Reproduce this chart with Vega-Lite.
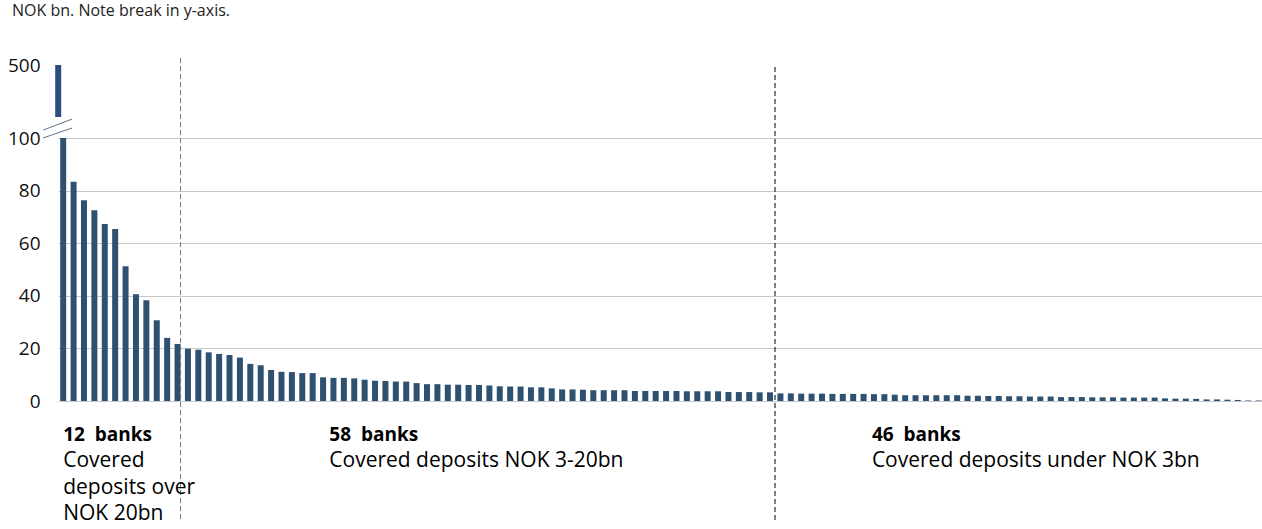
{
  "$schema": "https://vega.github.io/schema/vega-lite/v6.json",
  "autosize": {"type": "none"},
  "padding": {"left": 58, "top": 58, "right": 0, "bottom": 0},
  "width": 1204,
  "height": 471,
  "background": "white",
  "config": {"view": {"stroke": null}, "font": "Open Sans"},
  "title": {"text": "NOK bn. Note break in y-axis.", "anchor": "start", "frame": "group", "orient": "top", "dx": -46, "offset": 37, "fontSize": 16, "fontWeight": "normal", "color": "#222222", "font": "Open Sans"},
  "datasets": {
    "banks": [
      {"bank": 1, "value": 500}, {"bank": 2, "value": 83.4}, {"bank": 3, "value": 76.3}, {"bank": 4, "value": 72.5},
      {"bank": 5, "value": 67.3}, {"bank": 6, "value": 65.4}, {"bank": 7, "value": 51.2}, {"bank": 8, "value": 40.6},
      {"bank": 9, "value": 38.3}, {"bank": 10, "value": 30.7}, {"bank": 11, "value": 24.0}, {"bank": 12, "value": 21.7},
      {"bank": 13, "value": 19.9}, {"bank": 14, "value": 19.5}, {"bank": 15, "value": 18.5}, {"bank": 16, "value": 17.9},
      {"bank": 17, "value": 17.5}, {"bank": 18, "value": 16.5}, {"bank": 19, "value": 14.1}, {"bank": 20, "value": 13.6},
      {"bank": 21, "value": 11.8}, {"bank": 22, "value": 11.1}, {"bank": 23, "value": 11.0}, {"bank": 24, "value": 10.6},
      {"bank": 25, "value": 10.6}, {"bank": 26, "value": 9.0}, {"bank": 27, "value": 8.8}, {"bank": 28, "value": 8.8},
      {"bank": 29, "value": 8.6}, {"bank": 30, "value": 8.1}, {"bank": 31, "value": 7.7}, {"bank": 32, "value": 7.6},
      {"bank": 33, "value": 7.4}, {"bank": 34, "value": 7.4}, {"bank": 35, "value": 6.8}, {"bank": 36, "value": 6.4},
      {"bank": 37, "value": 6.4}, {"bank": 38, "value": 6.2}, {"bank": 39, "value": 6.2}, {"bank": 40, "value": 6.1},
      {"bank": 41, "value": 6.1}, {"bank": 42, "value": 5.9}, {"bank": 43, "value": 5.6}, {"bank": 44, "value": 5.5},
      {"bank": 45, "value": 5.5}, {"bank": 46, "value": 5.2}, {"bank": 47, "value": 5.2}, {"bank": 48, "value": 4.8},
      {"bank": 49, "value": 4.4}, {"bank": 50, "value": 4.4}, {"bank": 51, "value": 4.3}, {"bank": 52, "value": 4.1},
      {"bank": 53, "value": 4.1}, {"bank": 54, "value": 4.1}, {"bank": 55, "value": 4.1}, {"bank": 56, "value": 3.8},
      {"bank": 57, "value": 3.8}, {"bank": 58, "value": 3.8}, {"bank": 59, "value": 3.8}, {"bank": 60, "value": 3.8},
      {"bank": 61, "value": 3.7}, {"bank": 62, "value": 3.7}, {"bank": 63, "value": 3.7}, {"bank": 64, "value": 3.7},
      {"bank": 65, "value": 3.4}, {"bank": 66, "value": 3.4}, {"bank": 67, "value": 3.4}, {"bank": 68, "value": 3.3},
      {"bank": 69, "value": 3.3}, {"bank": 70, "value": 2.9}, {"bank": 71, "value": 2.9}, {"bank": 72, "value": 2.8},
      {"bank": 73, "value": 2.8}, {"bank": 74, "value": 2.8}, {"bank": 75, "value": 2.7}, {"bank": 76, "value": 2.7},
      {"bank": 77, "value": 2.7}, {"bank": 78, "value": 2.7}, {"bank": 79, "value": 2.6}, {"bank": 80, "value": 2.6},
      {"bank": 81, "value": 2.4}, {"bank": 82, "value": 2.2}, {"bank": 83, "value": 2.2}, {"bank": 84, "value": 2.2},
      {"bank": 85, "value": 2.2}, {"bank": 86, "value": 2.2}, {"bank": 87, "value": 2.2}, {"bank": 88, "value": 2.0},
      {"bank": 89, "value": 2.0}, {"bank": 90, "value": 1.9}, {"bank": 91, "value": 1.9}, {"bank": 92, "value": 1.8},
      {"bank": 93, "value": 1.8}, {"bank": 94, "value": 1.7}, {"bank": 95, "value": 1.7}, {"bank": 96, "value": 1.7},
      {"bank": 97, "value": 1.5}, {"bank": 98, "value": 1.5}, {"bank": 99, "value": 1.5}, {"bank": 100, "value": 1.4},
      {"bank": 101, "value": 1.4}, {"bank": 102, "value": 1.4}, {"bank": 103, "value": 1.3}, {"bank": 104, "value": 1.3},
      {"bank": 105, "value": 1.3}, {"bank": 106, "value": 1.3}, {"bank": 107, "value": 1.0}, {"bank": 108, "value": 0.9},
      {"bank": 109, "value": 0.9}, {"bank": 110, "value": 0.8}, {"bank": 111, "value": 0.6}, {"bank": 112, "value": 0.6},
      {"bank": 113, "value": 0.5}, {"bank": 114, "value": 0.4}, {"bank": 115, "value": 0.2}, {"bank": 116, "value": 0.2}
    ],
    "notes": [
      {"at": 1, "line": 1, "text": "12\u00a0 banks"},
      {"at": 1, "line": 2, "text": "Covered"},
      {"at": 1, "line": 3, "text": "deposits over"},
      {"at": 1, "line": 4, "text": "NOK 20bn"},
      {"at": 26.6, "line": 1, "text": "58\u00a0 banks"},
      {"at": 26.6, "line": 2, "text": "Covered deposits NOK 3-20bn"},
      {"at": 78.8, "line": 1, "text": "46\u00a0 banks"},
      {"at": 78.8, "line": 2, "text": "Covered deposits under NOK 3bn"}
    ]
  },
  "layer": [
    {
      "data": {"name": "banks"},
      "mark": {"type": "bar", "orient": "vertical", "width": 6, "color": "#2E5171"},
      "encoding": {
        "x": {"field": "bank", "type": "quantitative", "scale": {"domain": [0.5, 116.33], "nice": false, "zero": false, "padding": 0}, "axis": null},
        "y": {"field": "value", "type": "quantitative",
              "scale": {"domain": [0, 100], "range": [343, 80], "clamp": true, "nice": false, "zero": true},
              "axis": {"orient": "left", "values": [0, 20, 40, 60, 80, 100], "grid": true, "gridColor": "#c8c8c8", "gridWidth": 1,
                       "domain": false, "ticks": false, "labelPadding": 18, "labelFontSize": 19, "labelColor": "#111111",
                       "labelFont": "Open Sans", "title": null}}
      }
    },
    {
      "data": {"name": "banks"},
      "transform": [{"filter": "datum.value > 100"}],
      "mark": {"type": "bar", "orient": "vertical", "width": 6, "color": "#2C4D7E", "xOffset": -5},
      "encoding": {
        "x": {"field": "bank", "type": "quantitative", "scale": {"domain": [0.5, 116.33], "nice": false, "zero": false, "padding": 0}},
        "y": {"field": "value", "type": "quantitative",
              "scale": {"domain": [480, 500], "range": [59, 7], "nice": false, "zero": false},
              "axis": {"orient": "left", "values": [500], "grid": false, "domain": false, "ticks": false, "labelPadding": 18,
                       "labelFontSize": 19, "labelColor": "#111111", "labelFont": "Open Sans", "title": null}},
        "y2": {"datum": 480}
      }
    },
    {
      "data": {"values": [{}]},
      "mark": {"type": "rule", "color": "#5f7189", "strokeWidth": 1, "clip": false},
      "encoding": {
        "x": {"datum": -0.93, "type": "quantitative", "scale": {"domain": [0.5, 116.33], "nice": false, "zero": false, "padding": 0}},
        "x2": {"datum": 1.85},
        "y": {"datum": 103.0, "type": "quantitative", "scale": {"domain": [0, 100], "range": [343, 80], "nice": false, "zero": false}, "axis": null},
        "y2": {"datum": 107.2}
      }
    },
    {
      "data": {"values": [{}]},
      "mark": {"type": "rule", "color": "#5f7189", "strokeWidth": 1, "clip": false},
      "encoding": {
        "x": {"datum": -0.93, "type": "quantitative", "scale": {"domain": [0.5, 116.33], "nice": false, "zero": false, "padding": 0}},
        "x2": {"datum": 1.85},
        "y": {"datum": 100.0, "type": "quantitative", "scale": {"domain": [0, 100], "range": [343, 80], "nice": false, "zero": false}, "axis": null},
        "y2": {"datum": 103.8}
      }
    },
    {
      "data": {"values": [{}]},
      "mark": {"type": "rule", "color": "#767676", "strokeWidth": 1, "strokeDash": [5, 3]},
      "encoding": {
        "x": {"datum": 12.29, "type": "quantitative", "scale": {"domain": [0.5, 116.33], "nice": false, "zero": false, "padding": 0}},
        "y": {"datum": 130.4, "type": "quantitative", "scale": {"domain": [0, 100], "range": [343, 80], "nice": false, "zero": false}, "axis": null},
        "y2": {"datum": -45.2}
      }
    },
    {
      "data": {"values": [{}]},
      "mark": {"type": "rule", "color": "#000000", "strokeWidth": 1, "strokeDash": [5, 3]},
      "encoding": {
        "x": {"datum": 69.48, "type": "quantitative", "scale": {"domain": [0.5, 116.33], "nice": false, "zero": false, "padding": 0}},
        "y": {"datum": 127.0, "type": "quantitative", "scale": {"domain": [0, 100], "range": [343, 80], "nice": false, "zero": false}, "axis": null},
        "y2": {"datum": -46.0}
      }
    },
    {
      "data": {"name": "notes"},
      "transform": [{"filter": "datum.line == 1"}],
      "mark": {"type": "text", "align": "left", "baseline": "middle", "fontSize": 19, "fontWeight": "bold", "font": "Open Sans", "color": "#000000"},
      "encoding": {
        "x": {"field": "at", "type": "quantitative", "scale": {"domain": [0.5, 116.33], "nice": false, "zero": false, "padding": 0}},
        "y": {"field": "line", "type": "quantitative", "scale": {"domain": [1, 4], "range": [377, 456], "nice": false, "zero": false}, "axis": null},
        "text": {"field": "text"}
      }
    },
    {
      "data": {"name": "notes"},
      "transform": [{"filter": "datum.line > 1"}],
      "mark": {"type": "text", "align": "left", "baseline": "middle", "fontSize": 21, "font": "Open Sans", "color": "#000000"},
      "encoding": {
        "x": {"field": "at", "type": "quantitative", "scale": {"domain": [0.5, 116.33], "nice": false, "zero": false, "padding": 0}},
        "y": {"field": "line", "type": "quantitative", "scale": {"domain": [1, 4], "range": [377, 456], "nice": false, "zero": false}, "axis": null},
        "text": {"field": "text"}
      }
    }
  ],
  "resolve": {"scale": {"y": "independent"}, "axis": {"y": "independent"}}
}
